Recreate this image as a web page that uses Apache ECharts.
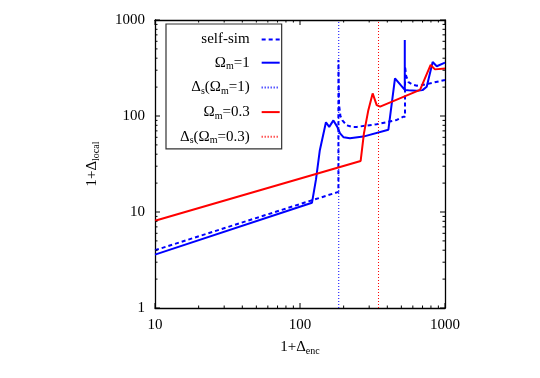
<!DOCTYPE html>
<html>
<head>
<meta charset="utf-8">
<script src="https://cdn.jsdelivr.net/npm/echarts@6/dist/echarts.min.js"></script>
<style>
html,body{margin:0;padding:0;background:#fff;}
#chart{width:540px;height:378px;}
</style>
</head>
<body>
<div id="chart"></div>
<script>
// ---- data ----
const xRange = [10, 1000];
const yRange = [1, 1000];

const selfSimX = [10, 184, 184, 186, 190, 196, 210, 230, 246, 338, 465, 513, 530, 530, 540, 560, 600, 640, 700, 1000];
const selfSimY = [4.0, 16.2, 383, 130, 100, 90, 80, 77, 77, 82, 91, 98, 98, 330, 260, 225, 212, 207, 210, 237];

const om1X = [10, 121, 129, 137, 151, 159, 170, 180, 189, 200, 221, 273, 407, 452, 528, 528, 528, 560, 638, 700, 748, 822, 877, 1000];
const om1Y = [3.6, 12.5, 22, 44, 86, 77, 90, 78, 66, 60, 58.5, 61, 72, 247, 187, 620, 187, 185, 183, 186, 202, 365, 330, 360];

const om03X = [10, 262, 276, 296, 317, 338, 357, 673, 796, 853, 1000];
const om03Y = [8.1, 34, 66, 115, 172, 130, 125, 187, 340, 306, 313];

const deltaS1 = 185;     // Δs(Ωm=1)
const deltaS03 = 348;    // Δs(Ωm=0.3)

const xMajorTicks = [10, 100, 1000];
const yMajorTicks = [1, 10, 100, 1000];
const minorMultipliers = [2, 3, 4, 5, 6, 7, 8, 9];

const seriesNames = ['self-sim', 'om1', 'ds1', 'om03', 'ds03'];
const legendLabels = {
  'self-sim': '{t|self-sim}',
  'om1': '{t|Ω}{s|m}{t|=1}',
  'ds1': '{t|Δ}{s|s}{t|(Ω}{s|m}{t|=1)}',
  'om03': '{t|Ω}{s|m}{t|=0.3}',
  'ds03': '{t|Δ}{s|s}{t|(Ω}{s|m}{t|=0.3)}'
};

// ---- helpers ----
function zip(xs, ys) { return xs.map((x, i) => [x, ys[i]]); }
function minorTicks(lo, hi) {
  const out = [];
  for (let d = lo; d < hi; d *= 10) minorMultipliers.forEach(m => out.push(m * d));
  return out;
}
const FONT = 'Liberation Serif';
const BLUE = '#0000ff';
const RED = '#ff0000';

const richStyles = {
  t: { fontFamily: FONT, fontSize: 15, color: '#000', lineHeight: 18 },
  s: { fontFamily: FONT, fontSize: 10, color: '#000', lineHeight: 10, padding: [8, 0, 0, 0] }
};

function tickSeries(dir, values, len) {
  return {
    type: 'custom',
    silent: true,
    z: 10,
    clip: false,
    data: values.map(v => dir === 'x' ? [v, yRange[0]] : [xRange[0], v]),
    renderItem: function (params, api) {
      const style = { stroke: '#000', lineWidth: 1 };
      if (dir === 'x') {
        const v = api.value(0);
        const b = api.coord([v, yRange[0]]);
        const t = api.coord([v, yRange[1]]);
        return { type: 'group', children: [
          { type: 'line', shape: { x1: b[0], y1: b[1], x2: b[0], y2: b[1] - len }, style: style },
          { type: 'line', shape: { x1: t[0], y1: t[1], x2: t[0], y2: t[1] + len }, style: style }
        ]};
      } else {
        const v = api.value(1);
        const l = api.coord([xRange[0], v]);
        const r = api.coord([xRange[1], v]);
        return { type: 'group', children: [
          { type: 'line', shape: { x1: l[0], y1: l[1], x2: l[0] + len, y2: l[1] }, style: style },
          { type: 'line', shape: { x1: r[0], y1: r[1], x2: r[0] - len, y2: r[1] }, style: style }
        ]};
      }
    }
  };
}

const axisCommon = {
  type: 'log',
  logBase: 10,
  splitLine: { show: false },
  axisTick: { show: false },
  minorTick: { show: false },
  axisLine: { show: true, lineStyle: { color: '#000', width: 1.3 } }
};
const labelStyle = { fontFamily: FONT, fontSize: 15, color: '#000', margin: 10,
  formatter: function (v) { return String(Math.round(v)); } };

const chart = echarts.init(document.getElementById('chart'), null, { renderer: 'canvas' });
chart.setOption({
  animation: false,
  backgroundColor: '#fff',
  grid: { left: 155, right: 95, top: 20, bottom: 70, outerBoundsMode: 'none', containLabel: false },
  xAxis: [
    Object.assign({}, axisCommon, {
      position: 'bottom', min: xRange[0], max: xRange[1],
      axisLabel: labelStyle,
      name: '{t|1+Δ}{s|enc}', nameLocation: 'middle', nameGap: 25,
      nameTextStyle: { rich: richStyles }
    }),
    Object.assign({}, axisCommon, {
      position: 'top', min: xRange[0], max: xRange[1], axisLabel: { show: false }
    })
  ],
  yAxis: [
    Object.assign({}, axisCommon, {
      position: 'left', min: yRange[0], max: yRange[1],
      axisLabel: labelStyle,
      name: '{t|1+Δ}{s|local}', nameLocation: 'middle', nameGap: 54, nameRotate: 90,
      nameTextStyle: { rich: richStyles }
    }),
    Object.assign({}, axisCommon, {
      position: 'right', min: yRange[0], max: yRange[1], axisLabel: { show: false }
    })
  ],
  legend: {
    data: seriesNames,
    orient: 'vertical',
    align: 'right',
    left: 166,
    top: 24,
    padding: [8, 1, 3, 14],
    itemWidth: 18,
    itemHeight: 14,
    itemGap: 6.7,
    backgroundColor: '#fff',
    borderColor: '#333',
    borderWidth: 1.2,
    borderRadius: 0,
    itemStyle: { color: 'rgba(0,0,0,0)', borderColor: 'rgba(0,0,0,0)', borderWidth: 0 },
    formatter: function (name) { return legendLabels[name]; },
    textStyle: {
      fontFamily: FONT, fontSize: 15, color: '#000', padding: [0, 7, 0, 0],
      rich: richStyles
    }
  },
  series: [
    { name: 'self-sim', type: 'line', data: zip(selfSimX, selfSimY), symbol: 'none', showSymbol: false,
      lineStyle: { color: BLUE, width: 2, type: [4, 3] }, itemStyle: { color: BLUE }, z: 2 },
    { name: 'om1', type: 'line', data: zip(om1X, om1Y), symbol: 'none', showSymbol: false,
      lineStyle: { color: BLUE, width: 2 }, itemStyle: { color: BLUE }, z: 3 },
    { name: 'ds1', type: 'line', data: [[deltaS1, yRange[0]], [deltaS1, yRange[1]]], symbol: 'none', showSymbol: false,
      lineStyle: { color: BLUE, width: 1, type: [1, 2] }, itemStyle: { color: BLUE }, z: 4 },
    { name: 'om03', type: 'line', data: zip(om03X, om03Y), symbol: 'none', showSymbol: false,
      lineStyle: { color: RED, width: 2 }, itemStyle: { color: RED }, z: 5 },
    { name: 'ds03', type: 'line', data: [[deltaS03, yRange[0]], [deltaS03, yRange[1]]], symbol: 'none', showSymbol: false,
      lineStyle: { color: RED, width: 1, type: [1, 2] }, itemStyle: { color: RED }, z: 6 },
    tickSeries('x', xMajorTicks, 5),
    tickSeries('x', minorTicks(xRange[0], xRange[1]), 2.5),
    tickSeries('y', yMajorTicks, 5),
    tickSeries('y', minorTicks(yRange[0], yRange[1]), 2.5)
  ]
});
</script>
</body>
</html>
